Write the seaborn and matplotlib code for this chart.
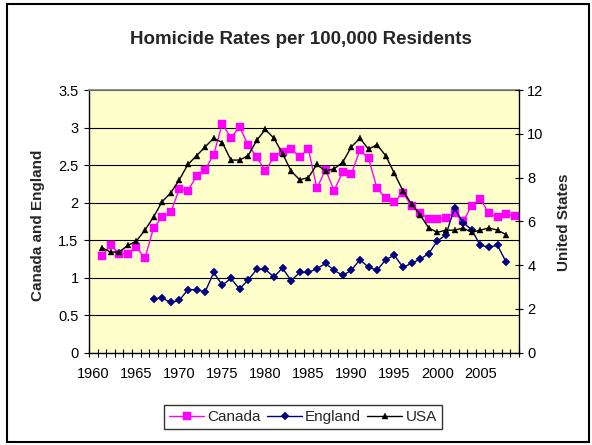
import numpy as np
import pandas as pd
import matplotlib
matplotlib.use('Agg')
import matplotlib.pyplot as plt
import seaborn as sns
from matplotlib.patches import Rectangle
from matplotlib.ticker import FixedLocator, FuncFormatter

# values
canada_years = list(range(1961, 2010))
canada = [1.29, 1.43, 1.32, 1.32, 1.41, 1.26, 1.66, 1.81, 1.87, 2.18,
          2.16, 2.35, 2.44, 2.64, 3.05, 2.86, 3.01, 2.77, 2.61, 2.42,
          2.61, 2.68, 2.71, 2.61, 2.72, 2.19, 2.44, 2.16, 2.41, 2.38,
          2.70, 2.59, 2.19, 2.06, 2.01, 2.13, 1.96, 1.86, 1.78, 1.78,
          1.80, 1.86, 1.75, 1.96, 2.05, 1.86, 1.81, 1.85, 1.82]

england_years = list(range(1967, 2009))
england = [0.72, 0.73, 0.67, 0.70, 0.84, 0.84, 0.81, 1.07, 0.90, 0.99,
           0.85, 0.97, 1.11, 1.11, 1.01, 1.13, 0.96, 1.07, 1.07, 1.12,
           1.19, 1.10, 1.03, 1.10, 1.24, 1.14, 1.10, 1.24, 1.30, 1.14,
           1.19, 1.25, 1.32, 1.49, 1.57, 1.93, 1.73, 1.64, 1.43, 1.41,
           1.43, 1.21]

usa_years = list(range(1961, 2009))
usa = [4.8, 4.6, 4.6, 4.9, 5.1, 5.6, 6.2, 6.9, 7.3, 7.9,
       8.6, 9.0, 9.4, 9.8, 9.6, 8.8, 8.8, 9.0, 9.7, 10.2,
       9.8, 9.1, 8.3, 7.9, 8.0, 8.6, 8.3, 8.4, 8.7, 9.4,
       9.8, 9.3, 9.5, 9.0, 8.2, 7.4, 6.8, 6.3, 5.7, 5.5,
       5.6, 5.6, 5.7, 5.5, 5.6, 5.7, 5.6, 5.4]

year_labels = [1960, 1965, 1970, 1975, 1980, 1985, 1990, 1995, 2000, 2005]

sns.set_theme(style='white')
plt.rcParams['font.family'] = ['Liberation Sans', 'DejaVu Sans']

fig = plt.figure(figsize=(5.92, 4.45), dpi=100)
ax = fig.add_axes([89/592, 1-352.8/445, 430/592, 262.8/445])
ax2 = ax.twinx()
ax.set_facecolor('#FFFFCC')

df_c = pd.DataFrame({'year': canada_years, 'rate': canada})
df_e = pd.DataFrame({'year': england_years, 'rate': england})
df_u = pd.DataFrame({'year': usa_years, 'rate': usa})

sns.lineplot(data=df_c, x='year', y='rate', ax=ax, color='#FF00FF', lw=1,
             marker='s', markersize=5.2, markeredgewidth=0.3,
             markeredgecolor='#FF00FF', label='Canada', legend=False)
sns.lineplot(data=df_e, x='year', y='rate', ax=ax, color='#000080', lw=1,
             marker='D', markersize=4, markeredgewidth=0.3,
             markeredgecolor='#000080', label='England', legend=False)
sns.lineplot(data=df_u, x='year', y='rate', ax=ax2, color='black', lw=1,
             marker='^', markersize=4.5, markeredgewidth=0.3,
             markeredgecolor='black', label='USA', legend=False)

ax.set_xlim(1959.5, 2009.5)
ax.set_ylim(0, 3.5)
ax2.set_ylim(0, 12)

ax.set_yticks(np.arange(0, 3.51, 0.5))
ax.yaxis.set_major_formatter(FuncFormatter(lambda v, p: f'{v:g}'))
ax.tick_params(axis='y', left=True, length=3.5, width=0.8, color='black',
               pad=4, labelsize=10.5, labelcolor='black')
ax.yaxis.grid(True, color='black', lw=0.8)
ax.set_axisbelow(True)

ax.set_xticks(year_labels)
ax.set_xticklabels([str(y) for y in year_labels])
ax.xaxis.set_minor_locator(FixedLocator(np.arange(1959.5, 2010, 1)))
ax.tick_params(axis='x', which='major', bottom=True, length=0, pad=10,
               labelsize=10.5, labelcolor='black')
ax.tick_params(axis='x', which='minor', bottom=True, direction='inout',
               length=5.5, width=0.8, color='black')

ax2.set_yticks(range(0, 13, 2))
ax2.tick_params(axis='y', right=True, direction='inout', length=6, width=0.8,
                color='black', pad=3, labelsize=10.5, labelcolor='black')

ax.set_xlabel('')
ax.set_ylabel('')
ax2.set_ylabel('')

for s in ['left', 'bottom']:
    ax.spines[s].set_color('black')
    ax.spines[s].set_linewidth(1)
ax.spines['top'].set_color('#808080')
ax.spines['right'].set_visible(False)
for s in ['left', 'bottom', 'top']:
    ax2.spines[s].set_visible(False)
ax2.spines['right'].set_color('black')
ax2.spines['right'].set_linewidth(1)

fig.text(0.509, 1-39/445, 'Homicide Rates per 100,000 Residents',
         ha='center', va='center', fontsize=13.5, fontweight='bold')
fig.text(38/592, 1-225/445, 'Canada and England', rotation=90,
         ha='center', va='center', fontsize=11, fontweight='bold')
fig.text(564/592, 1-222/445, 'United States', rotation=90,
         ha='center', va='center', fontsize=11, fontweight='bold')

h1, l1 = ax.get_legend_handles_labels()
h2, l2 = ax2.get_legend_handles_labels()
leg = fig.legend(h1 + h2, l1 + l2, loc='center', ncol=3,
                 bbox_to_anchor=(303/592, 1-417/445), fontsize=11,
                 frameon=True, fancybox=False, edgecolor='black',
                 handlelength=2.3, handletextpad=0.2, columnspacing=0.4,
                 borderpad=0.35)
leg.get_frame().set_linewidth(1)

fig.add_artist(Rectangle((7/592, 3/445), 582/592, 438/445,
                         transform=fig.transFigure, fill=False,
                         edgecolor='black', lw=1.5))

fig.savefig('out.png', dpi=100)
